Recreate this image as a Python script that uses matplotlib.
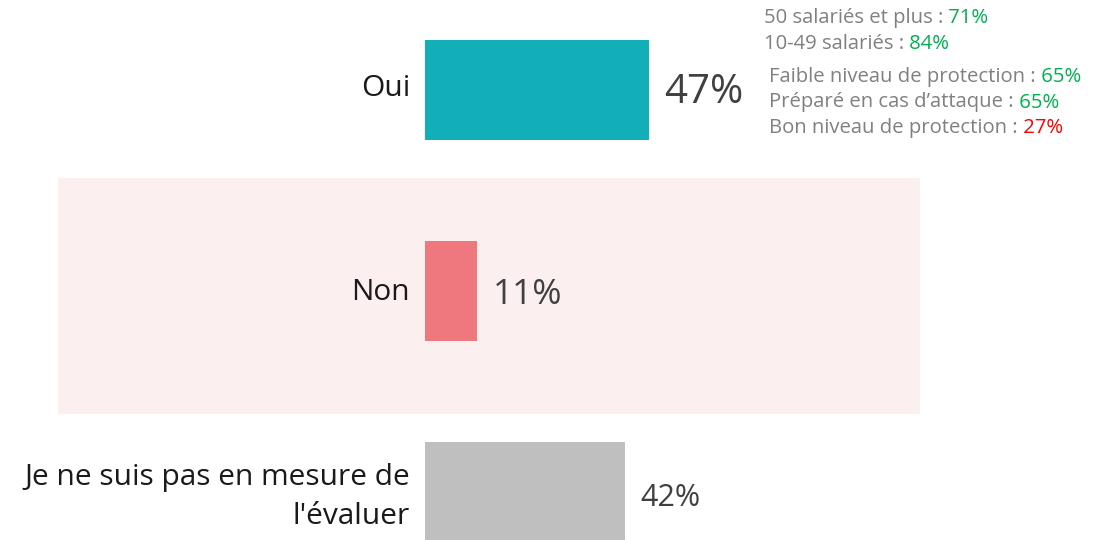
import numpy as np
import matplotlib.pyplot as plt
from matplotlib.patches import Rectangle

plt.rcParams['font.family'] = ['Open Sans', 'DejaVu Sans']

# data
categories = ["Oui", "Non", "Je ne suis pas en mesure de\nl'évaluer"]
values = [47, 11, 42]
bar_colors = ["#13AFB8", "#EF787E", "#BFBFBF"]
value_sizes = [29, 25.5, 22]

notes_top = [("50 salariés et plus :", "71%", "#00B050"),
             ("10-49 salariés :", "84%", "#00B050")]
notes_bottom = [("Faible niveau de protection :", "65%", "#00B050"),
                ("Préparé en cas d\u2019attaque :", "65%", "#00B050"),
                ("Bon niveau de protection :", "27%", "#FF0000")]

W, H = 1104, 540
fig = plt.figure(figsize=(W / 100, H / 100), dpi=100)
ax = fig.add_axes([0, 0, 1, 1])

# pixel layout -> data scale
px_per_pct = 4.77
x0 = 425
y_center0 = 90
row_px = 201
ax.set_xlim(-x0 / px_per_pct, (W - x0) / px_per_pct)
ax.set_ylim((H - y_center0) / row_px, -y_center0 / row_px)
ax.axis("off")

# highlight band behind "Non"
ax.add_patch(Rectangle(((58 - x0) / px_per_pct, (178 - y_center0) / row_px),
                       (920 - 58) / px_per_pct, (414 - 178) / row_px,
                       facecolor="#FCEFEF", edgecolor="none", zorder=0))

pos = np.arange(len(categories))
ax.barh(pos, values, height=100 / row_px, color=bar_colors, zorder=2)

label_dy = [-0.005, 0.005, 0.025]
value_dy = [0.015, 0.02, 0.03]
for p, cat, v, fs, ldy, vdy in zip(pos, categories, values, value_sizes,
                                   label_dy, value_dy):
    ax.text(-15 / px_per_pct, p + ldy, cat, ha="right", va="center",
            fontsize=21.5, color="#1A1A1A", linespacing=1.45)
    ax.text(v + 15 / px_per_pct, p + vdy, f"{v}%", ha="left", va="center",
            fontsize=fs, color="#404040")

def note(x, y, label, val, col):
    t = fig.text(x / W, 1 - y / H, label, ha="left", va="bottom",
                 fontsize=14.6, color="#808080")
    ax.annotate(" " + val, xy=(1, 0), xycoords=t, ha="left", va="bottom",
                fontsize=14.6, color=col)

for i, (lab, val, col) in enumerate(notes_top):
    note(764, 28 + i * 26, lab, val, col)
for i, (lab, val, col) in enumerate(notes_bottom):
    note(769, 87 + i * 25.5, lab, val, col)

fig.savefig("out.png", dpi=100)
